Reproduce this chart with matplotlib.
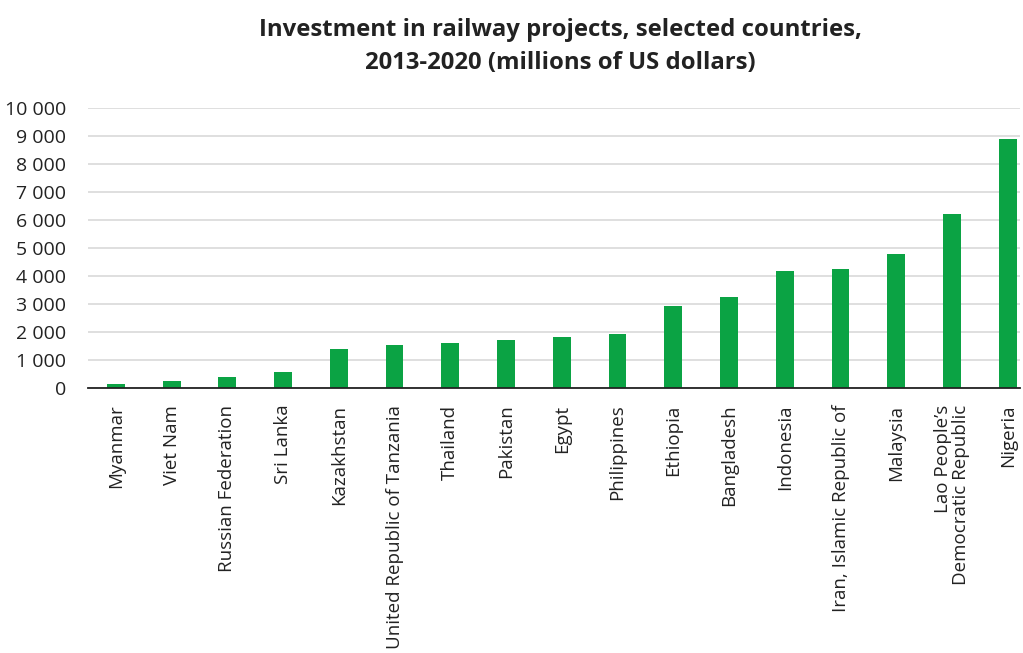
import matplotlib
matplotlib.use("Agg")
import matplotlib.pyplot as plt
from matplotlib.ticker import FuncFormatter

countries = [
    "Myanmar", "Viet Nam", "Russian Federation", "Sri Lanka", "Kazakhstan",
    "United Republic of Tanzania", "Thailand", "Pakistan", "Egypt",
    "Philippines", "Ethiopia", "Bangladesh", "Indonesia",
    "Iran, Islamic Republic of", "Malaysia",
    "Lao People\u2019s\nDemocratic Republic", "Nigeria",
]
investment = [130, 240, 395, 575, 1405, 1525, 1620, 1700, 1820, 1915,
              2920, 3265, 4190, 4240, 4775, 6230, 8905]
y_ticks = [0, 1000, 2000, 3000, 4000, 5000, 6000, 7000, 8000, 9000, 10000]

title = "Investment in railway projects, selected countries,\n2013-2020 (millions of US dollars)"

plt.rcParams["font.family"] = ["Open Sans", "DejaVu Sans"]

fig = plt.figure(figsize=(10.23, 6.53), dpi=100)
ax = fig.add_axes([88 / 1023, 1 - 388 / 653, (1020 - 88) / 1023, (388 - 108) / 653])

x = list(range(len(countries)))
ax.bar(x, investment, width=0.32, color="#0ba344", zorder=3)

ax.set_ylim(0, 10000)
ax.set_xlim(-0.5, 16.22)
ax.set_yticks(y_ticks)
ax.yaxis.set_major_formatter(FuncFormatter(lambda v, p: f"{int(v):,}".replace(",", " ")))
ax.yaxis.grid(True, color="#dcdcdc", linewidth=1.3, zorder=0)
ax.xaxis.grid(False)

for s in ["top", "right", "left"]:
    ax.spines[s].set_visible(False)
ax.spines["bottom"].set_color("#222222")
ax.spines["bottom"].set_linewidth(1.3)
ax.spines["bottom"].set_zorder(4)

ax.tick_params(axis="y", length=0, pad=16, labelsize=14, labelcolor="#222222")
ax.tick_params(axis="x", length=0, pad=12, labelsize=13.5, labelcolor="#222222")
ax.set_xticks(x)
ax.set_xticklabels(countries, rotation=90, ha="center", va="top",
                   multialignment="right", linespacing=1.05)

fig.text(0.548, 0.973, title, ha="center", va="top", fontsize=17.2,
         fontweight="bold", color="#222222", linespacing=1.5)

fig.savefig("out.png", dpi=100, facecolor="white")
